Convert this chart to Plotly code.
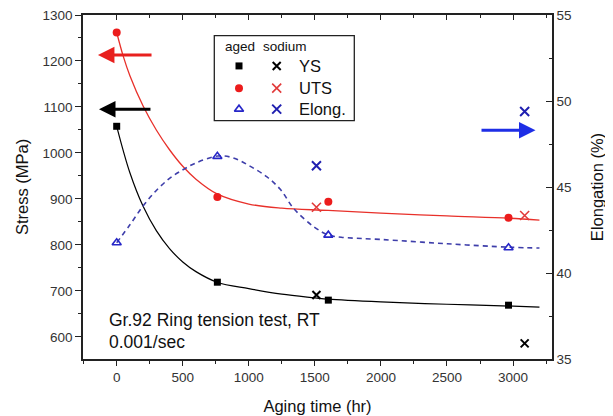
import plotly.graph_objects as go

# ---- data ----
aged_time = [0, 762, 1602, 2966]
aged_ys = [1058, 719, 680, 669]
aged_uts = [1262, 904, 894, 859]
aged_elong = [41.76, 46.78, 42.2, 41.47]

sodium_time = [1512, 3088]
sodium_ys = [691, 586]
sodium_uts = [882, 864]
sodium_elong = [46.24, 49.39]

# fitted trend curves
fit_ys_t = [0, 100, 200, 300, 400, 500, 600, 760, 1000, 1250, 1500, 1600, 2000, 2500, 3000, 3200]
fit_ys = [1058, 957, 884, 831, 792, 763, 742, 719, 705, 693, 685, 682, 676, 671, 667, 665]
fit_uts_t = [0, 50, 100, 200, 300, 400, 500, 600, 760, 1000, 1250, 1600, 2000, 2500, 2970, 3200]
fit_uts = [1262, 1210, 1168, 1102, 1050, 1007, 971, 943, 911, 889, 880, 875, 869, 863, 858, 854]
fit_el_t = [0, 100, 200, 300, 400, 500, 600, 765, 880, 1000, 1135, 1240, 1340, 1490, 1600, 1700, 2000, 2500, 2970, 3200]
fit_el = [41.76, 42.8, 43.9, 44.8, 45.5, 46.0, 46.4, 46.8, 46.7, 46.25, 45.6, 44.85, 43.75, 42.7, 42.22, 42.08, 41.95, 41.7, 41.5, 41.45]

legend_rows = ["YS", "UTS", "Elong."]

FONT = "Liberation Sans, Arial, sans-serif"
RED = "#EC1C1C"
BLUE = "#2626C8"
DASH = "#3E3EAA"

# page body has an 8px default margin; size the figure to fill the remaining window
OFF = 8
W, H = 613 - OFF, 416 - OFF
L, R, T, B = 83 - OFF, 613 - 552, 15 - OFF, 416 - 359.5
pw, ph = W - L - R, H - T - B


def px(x_page):
    return (x_page - OFF - L) / pw


def py(y_page):
    return (H - B - (y_page - OFF)) / ph


fig = go.Figure()

# fit lines
fig.add_trace(go.Scatter(x=fit_ys_t, y=fit_ys, mode="lines",
                         line=dict(color="black", width=1.2, shape="spline", smoothing=1.0),
                         hoverinfo="skip"))
fig.add_trace(go.Scatter(x=fit_uts_t, y=fit_uts, mode="lines",
                         line=dict(color="#E8302A", width=1.3, shape="spline", smoothing=1.0),
                         hoverinfo="skip"))
fig.add_trace(go.Scatter(x=fit_el_t, y=fit_el, mode="lines", yaxis="y2",
                         line=dict(color=DASH, width=1.6, dash="5px,4px", shape="spline", smoothing=1.0),
                         hoverinfo="skip"))

# markers
fig.add_trace(go.Scatter(x=aged_time, y=aged_ys, mode="markers",
                         marker=dict(symbol="square", size=7, color="black")))
fig.add_trace(go.Scatter(x=sodium_time, y=sodium_ys, mode="markers",
                         marker=dict(symbol="x-thin", size=8, line=dict(color="black", width=2))))
fig.add_trace(go.Scatter(x=aged_time, y=aged_uts, mode="markers",
                         marker=dict(symbol="circle", size=8, color=RED)))
fig.add_trace(go.Scatter(x=sodium_time, y=sodium_uts, mode="markers",
                         marker=dict(symbol="x-thin", size=9, line=dict(color="#E23A3A", width=1.6))))
fig.add_trace(go.Scatter(x=aged_time, y=aged_elong, mode="markers", yaxis="y2",
                         marker=dict(symbol="triangle-up-open", size=8, color=BLUE, line=dict(width=1.6))))
fig.add_trace(go.Scatter(x=sodium_time, y=sodium_elong, mode="markers", yaxis="y2",
                         marker=dict(symbol="x-thin", size=9, line=dict(color="#2020B0", width=2))))

# dummy trace so the top mirror axis is drawn
fig.add_trace(go.Scatter(x=[None], y=[None], xaxis="x2", yaxis="y", showlegend=False))

# ---- legend (markers on a paper-like overlay axis) ----
row_y = [py(66), py(88.3), py(109.3)]
fig.add_trace(go.Scatter(x=[px(239)], y=[row_y[0]], xaxis="x3", yaxis="y3", mode="markers",
                         marker=dict(symbol="square", size=7, color="black")))
fig.add_trace(go.Scatter(x=[px(239)], y=[row_y[1]], xaxis="x3", yaxis="y3", mode="markers",
                         marker=dict(symbol="circle", size=8, color=RED)))
fig.add_trace(go.Scatter(x=[px(239)], y=[row_y[2]], xaxis="x3", yaxis="y3", mode="markers",
                         marker=dict(symbol="triangle-up-open", size=8, color=BLUE, line=dict(width=1.6))))
fig.add_trace(go.Scatter(x=[px(276.7)], y=[row_y[0]], xaxis="x3", yaxis="y3", mode="markers",
                         marker=dict(symbol="x-thin", size=8, line=dict(color="black", width=2))))
fig.add_trace(go.Scatter(x=[px(276.7)], y=[row_y[1]], xaxis="x3", yaxis="y3", mode="markers",
                         marker=dict(symbol="x-thin", size=9, line=dict(color="#E23A3A", width=1.6))))
fig.add_trace(go.Scatter(x=[px(276.7)], y=[row_y[2]], xaxis="x3", yaxis="y3", mode="markers",
                         marker=dict(symbol="x-thin", size=9, line=dict(color="#2020B0", width=2))))

annotations = []
for lab, yy in zip(legend_rows, row_y):
    annotations.append(dict(xref="paper", yref="paper", x=px(297), y=yy, text=lab, showarrow=False,
                            xanchor="left", yanchor="middle", font=dict(family=FONT, size=16.5, color="#111")))
annotations.append(dict(xref="paper", yref="paper", x=px(223), y=py(46.5), text="aged", showarrow=False,
                        xanchor="left", yanchor="middle", font=dict(family=FONT, size=13.5, color="#111")))
annotations.append(dict(xref="paper", yref="paper", x=px(261), y=py(46.5), text="sodium", showarrow=False,
                        xanchor="left", yanchor="middle", font=dict(family=FONT, size=13.5, color="#111")))

# text notes
annotations.append(dict(xref="paper", yref="paper", x=px(107), y=py(320.5), text="Gr.92 Ring tension test, RT",
                        showarrow=False, xanchor="left", yanchor="middle",
                        font=dict(family=FONT, size=17.5, color="#111")))
annotations.append(dict(xref="paper", yref="paper", x=px(107), y=py(342.5), text="0.001/sec",
                        showarrow=False, xanchor="left", yanchor="middle",
                        font=dict(family=FONT, size=17.5, color="#111")))

# arrows indicating axes
annotations.append(dict(xref="x", yref="y", axref="x", ayref="y", x=-142, y=1213, ax=275, ay=1213,
                        text="", showarrow=True, arrowhead=2, arrowsize=1.1, arrowwidth=3, arrowcolor="#E8201E"))
annotations.append(dict(xref="x", yref="y", axref="x", ayref="y", x=-134, y=1095, ax=267, ay=1095,
                        text="", showarrow=True, arrowhead=2, arrowsize=1.1, arrowwidth=3, arrowcolor="black"))
annotations.append(dict(xref="x", yref="y2", axref="x", ayref="y2", x=3170, y=48.3, ax=2750, ay=48.3,
                        text="", showarrow=True, arrowhead=2, arrowsize=1.1, arrowwidth=3, arrowcolor="#1E2EE6"))

shapes = [dict(type="rect", xref="paper", yref="paper", x0=px(214.3), x1=px(354.3), y0=py(120.7), y1=py(35.7),
               line=dict(color="#222", width=1.3), fillcolor="rgba(0,0,0,0)")]

axis_line = dict(showline=True, linecolor="#222", linewidth=1.5, showgrid=False, zeroline=False,
                 automargin=False)
tickfont = dict(family=FONT, size=13.5, color="#333")
titlefont = dict(family=FONT, size=16.5, color="#111")

fig.update_layout(
    width=W, height=H,
    margin=dict(l=L, r=R, t=T, b=B, autoexpand=False),
    plot_bgcolor="white", paper_bgcolor="white",
    showlegend=False,
    font=dict(family=FONT),
    xaxis=dict(range=[-255, 3295], dtick=500, tick0=0, ticks="outside", ticklen=5, tickwidth=1.3,
               tickcolor="#222", tickfont=tickfont, ticklabeloverflow="allow",
               minor=dict(ticks="outside", ticklen=3, dtick=250, tick0=0, tickcolor="#222", tickwidth=1.2),
               title=dict(text="Aging time (hr)", font=titlefont, standoff=16),
               **axis_line),
    xaxis2=dict(range=[-255, 3295], overlaying="x", side="top", anchor="y", dtick=500, tick0=0,
                ticks="inside", ticklen=5, tickwidth=1.3, tickcolor="#222", showticklabels=False,
                minor=dict(ticks="inside", ticklen=3, dtick=250, tick0=0, tickcolor="#222", tickwidth=1.2),
                **axis_line),
    yaxis=dict(range=[552, 1300], dtick=100, tick0=0, ticks="outside", ticklen=6, tickwidth=1.3,
               tickcolor="#222", tickfont=tickfont, ticklabeloverflow="allow",
               minor=dict(ticks="outside", ticklen=3, dtick=50, tick0=0, tickcolor="#222", tickwidth=1.2),
               title=dict(text="Stress (MPa)", font=titlefont, standoff=10),
               **axis_line),
    yaxis2=dict(range=[35, 55], overlaying="y", side="right", anchor="x", dtick=5, tick0=0,
                ticks="inside", ticklen=6, tickwidth=1.3, tickcolor="#222", tickfont=tickfont,
                ticklabeloverflow="allow",
                minor=dict(ticks="inside", ticklen=3, dtick=2.5, tick0=0, tickcolor="#222", tickwidth=1.2),
                title=dict(text="Elongation (%)", font=titlefont, standoff=21),
                **axis_line),
    xaxis3=dict(range=[0, 1], overlaying="x", visible=False, anchor="y3"),
    yaxis3=dict(range=[0, 1], overlaying="y", visible=False, anchor="x3"),
    annotations=annotations,
    shapes=shapes,
)

fig.write_html("out.html")
